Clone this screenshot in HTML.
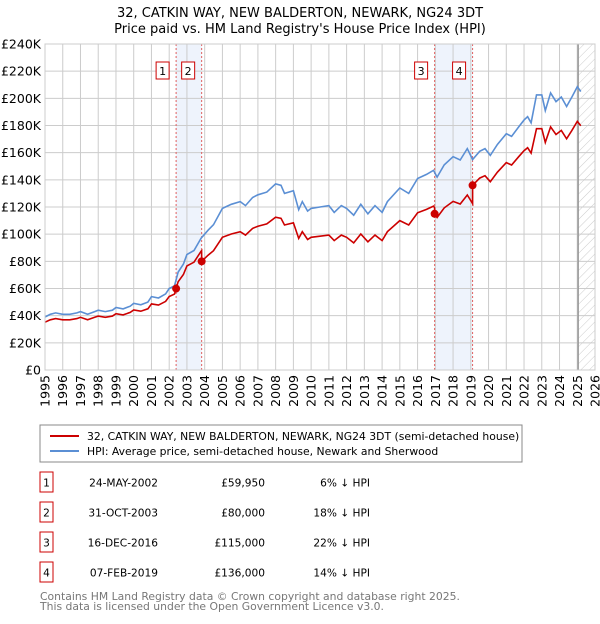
<!DOCTYPE html>
<html><head><meta charset="utf-8"><style>
body{margin:0;background:#fff;font-family:"DejaVu Sans","Liberation Sans",sans-serif;}
svg text{font-family:"DejaVu Sans","Liberation Sans",sans-serif;}
</style></head><body>
<svg id="chart" width="600" height="620" xmlns="http://www.w3.org/2000/svg">
<defs><pattern id="hatch" width="6" height="6" patternUnits="userSpaceOnUse" patternTransform="rotate(45)"><line x1="0" y1="0" x2="0" y2="6" stroke="#ccc" stroke-width="1"/></pattern></defs>
<text x="300" y="17" text-anchor="middle" font-size="13">32, CATKIN WAY, NEW BALDERTON, NEWARK, NG24 3DT</text>
<text x="300" y="33" text-anchor="middle" font-size="13">Price paid vs. HM Land Registry's House Price Index (HPI)</text>
<g id="plot"></g>
<rect x="40" y="425" width="482" height="37" fill="#fff" stroke="#888"/>
<line x1="50" y1="436" x2="79" y2="436" stroke="#cc0000" stroke-width="2"/>
<text x="87" y="440" font-size="10.8">32, CATKIN WAY, NEW BALDERTON, NEWARK, NG24 3DT (semi-detached house)</text>
<line x1="50" y1="451" x2="79" y2="451" stroke="#5b8fd4" stroke-width="2"/>
<text x="87" y="455" font-size="10.8">HPI: Average price, semi-detached house, Newark and Sherwood</text>
<g id="table" font-size="10.6"></g>
<text x="40" y="600" font-size="10.8" fill="#777">Contains HM Land Registry data © Crown copyright and database right 2025.</text>
<text x="40" y="610" font-size="10.8" fill="#777">This data is licensed under the Open Government Licence v3.0.</text>
</svg>
<script>
const hpiYears=[1995,1995.3,1995.6,1996,1996.4,1996.8,1997,1997.4,1997.8,1998,1998.4,1998.8,1999,1999.4,1999.8,2000,2000.4,2000.8,2001,2001.4,2001.8,2002,2002.3,2002.5,2002.8,2003,2003.4,2003.8,2004.2,2004.5,2005,2005.5,2006,2006.3,2006.7,2007,2007.5,2008,2008.3,2008.5,2009,2009.3,2009.5,2009.8,2010,2010.5,2011,2011.3,2011.7,2012,2012.4,2012.8,2013.2,2013.6,2014,2014.3,2015,2015.5,2016,2016.5,2016.9,2017.1,2017.5,2018,2018.4,2018.8,2019.1,2019.5,2019.8,2020.1,2020.5,2021,2021.3,2021.7,2022,2022.2,2022.4,2022.7,2023,2023.2,2023.5,2023.8,2024.1,2024.4,2024.7,2025,2025.2];
const hpiValues=[39,41,42,41,41,42,43,41,43,44,43,44,46,45,47,49,48,50,54,53,56,60,62,72,78,85,88,97,103,107,119,122,124,121,127,129,131,137,136,130,132,118,124,117,119,120,121,116,121,119,114,122,115,121,116,124,134,130,141,144,147,142,151,157,154.6,163,155,161,163,158,166,174,172,179,184,186.5,182,202.5,202.5,191,204,197.6,201,194,201,208.6,205];
const saleLabels=["1","2","3","4"];
const saleYears=[2002.39,2003.83,2016.96,2019.10];
const salePrices=[59950,80000,115000,136000];
const saleDates=["24-MAY-2002","31-OCT-2003","16-DEC-2016","07-FEB-2019"];
const salePriceText=["£59,950","£80,000","£115,000","£136,000"];
const saleDiffs=["6% ↓ HPI","18% ↓ HPI","22% ↓ HPI","14% ↓ HPI"];
const yTicks=[0,20,40,60,80,100,120,140,160,180,200,220,240];
const xTicks=[1995,1996,1997,1998,1999,2000,2001,2002,2003,2004,2005,2006,2007,2008,2009,2010,2011,2012,2013,2014,2015,2016,2017,2018,2019,2020,2021,2022,2023,2024,2025,2026];
const NS="http://www.w3.org/2000/svg";
const X0=45,X1=595,Y0=370,Y1=44;
const xs=y=>X0+(y-1995)*(X1-X0)/31;
const ys=v=>Y0-v*(Y0-Y1)/240;
const plot=document.getElementById('plot');
function mk(tag,attrs,parent){const e=document.createElementNS(NS,tag);for(const k in attrs)e.setAttribute(k,attrs[k]);(parent||plot).appendChild(e);return e;}
function hpiAt(t){for(let i=0;i<hpiYears.length-1;i++){if(t>=hpiYears[i]&&t<=hpiYears[i+1]){const f=(t-hpiYears[i])/(hpiYears[i+1]-hpiYears[i]);return hpiValues[i]+f*(hpiValues[i+1]-hpiValues[i]);}}return hpiValues[hpiValues.length-1];}
for(let k=0;k<4;k+=2){const r=mk('rect',{x:xs(saleYears[k]),y:Y1,width:xs(saleYears[k+1])-xs(saleYears[k]),height:Y0-Y1,fill:'#eef3fc'});

}
const hr=mk('rect',{x:xs(2025.05),y:Y1,width:X1-xs(2025.05),height:Y0-Y1,fill:'url(#hatch)'});


yTicks.forEach(v=>{const l=mk('line',{x1:X0,x2:X1,y1:ys(v),y2:ys(v),stroke:'#ccc'});


const t=mk('text',{x:X0-4,y:ys(v)+4.5,'text-anchor':'end','font-size':'12.5'});t.textContent=v===0?'£0':'£'+v+'K';

});
xTicks.forEach(y=>{const l=mk('line',{x1:xs(y),x2:xs(y),y1:Y1,y2:Y0,stroke:'#ccc'});


const t=mk('text',{x:0,y:0,'text-anchor':'end','font-size':'12.5',transform:`translate(${xs(y)+4.5},${Y0+5}) rotate(-90)`});t.textContent=y;

});
const nl=mk('line',{x1:xs(2025.05),x2:xs(2025.05),y1:Y1,y2:Y0,stroke:'#999','stroke-width':1.5});


saleYears.forEach((y,i)=>{const l=mk('line',{x1:xs(y),x2:xs(y),y1:Y1,y2:Y0,stroke:'#e06060','stroke-dasharray':'2,2'});


const r=mk('rect',{x:xs(y)-20,y:62,width:13,height:17,fill:'#fff',stroke:'#cc0000'});


const t=mk('text',{x:xs(y)-13.5,y:75,'text-anchor':'middle','font-size':'11'});t.textContent=saleLabels[i];

});
const bp=hpiYears.map((y,i)=>xs(y).toFixed(1)+','+ys(hpiValues[i]).toFixed(1)).join(' ');
const bl=mk('polyline',{points:bp,fill:'none',stroke:'#5b8fd4','stroke-width':1.6});


function ratioAt(t){let r=salePrices[0]/1000/hpiAt(saleYears[0]);for(let i=0;i<saleYears.length;i++){if(t>=saleYears[i])r=salePrices[i]/1000/hpiAt(saleYears[i]);}return r;}
let pts=[];const allT=hpiYears.concat(saleYears).concat(saleYears.map(s=>s-0.001)).sort((a,b)=>a-b);
allT.forEach(t=>{pts.push(xs(t).toFixed(1)+','+ys(hpiAt(t)*ratioAt(t)).toFixed(1));});
const rl=mk('polyline',{points:pts.join(' '),fill:'none',stroke:'#cc0000','stroke-width':1.6});


saleYears.forEach((y,i)=>{const c=mk('circle',{cx:xs(y),cy:ys(salePrices[i]/1000),r:4,fill:'#cc0000'});

});
mk('rect',{x:X0,y:Y1,width:X1-X0,height:Y0-Y1,fill:'none',stroke:'#ccc'});
const tb=document.getElementById('table');
saleDates.forEach((d,i)=>{const yy=483+i*30;
const r=mk('rect',{x:40,y:yy-11,width:13,height:20,fill:'#fff',stroke:'#cc0000'},tb);


const cells=[[46.5,'middle',saleLabels[i],'table-sale-number'],[158,'end',d,'table-sale-date'],[265,'end',salePriceText[i],'table-sale-price'],[370,'end',saleDiffs[i],'table-sale-hpi-diff']];
cells.forEach(c=>{const t=mk('text',{x:c[0],y:yy+3.5,'text-anchor':c[1]},tb);t.textContent=c[2];

});});
</script>
</body></html>
